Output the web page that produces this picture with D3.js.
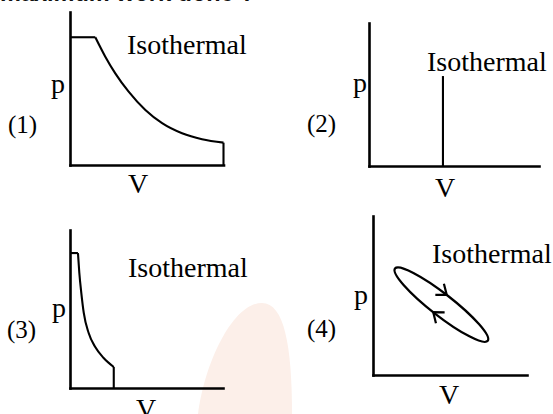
<!DOCTYPE html>
<html>
<head>
<meta charset="utf-8">
<script src="https://cdn.jsdelivr.net/npm/d3@7"></script>
<style>
  body { margin: 0; background: #fff; }
  svg { display: block; }
</style>
</head>
<body>
<div id="container"></div>
<script>
/* CONSTANTS AND GLOBALS */
const width = 553,
  height = 414;

/* DATA */
const panelLabels = ["(1)", "(2)", "(3)", "(4)"];
const curveLabel = "Isothermal";
const xLabel = "V", yLabel = "p";
const question = "maximum work done ?";

// (1) constant p, then isothermal expansion, then drop at constant V
const p1Top = 8.35;
const v1 = [1.65, 2.30, 2.95, 3.82, 4.91, 6.00, 7.30, 8.60, 10];
const p1 = [8.35, 7.08, 5.99, 4.79, 3.59, 2.73, 2.07, 1.68, 1.46];

// (2) vertical line
const v2 = 4.35, p2Top = 6.29;

// (3) short flat, steep isothermal, drop
const p3Top = 8.54;
const v3 = [0.52, 0.61, 0.74, 0.90, 1.22, 1.65, 2.20, 2.86];
const p3 = [8.54, 7.28, 6.01, 4.75, 3.48, 2.59, 1.90, 1.33];

// (4) closed cycle, tips of the loop (V, p)
const loopTips = [[1.43, 6.70], [7.45, 2.15]];

/* LAYOUT (pixel frame of each small plot + where its texts sit) */
const frames = [
  { x0: 70, x1: 223.5, yb: 165, yt: 12, iso: [127, 54], p: [51, 93], num: [8, 133], V: [138, 193] },
  { x0: 369, x1: 539, yb: 166, yt: 23, iso: [427, 71], p: [353, 92], num: [307, 132], V: [445, 197] },
  { x0: 70, x1: 223, yb: 388, yt: 230, iso: [128, 277], p: [52, 317], num: [7, 338], V: [146, 418] },
  { x0: 373, x1: 527, yb: 375, yt: 216, iso: [432, 263], p: [354, 304], num: [307, 337], V: [449, 404] }
];
const loopHalfWidth = 11;

const svg = d3.select("#container")
  .append("svg")
  .attr("width", width)
  .attr("height", height)
  .style("background", "#fff");

// faint watermark blob
svg.append("path")
  .attr("d", "M198,414 C204,365 232,303 262,303 C284,303 292,345 292,414 Z")
  .attr("fill", "#fcefe9");

// question text, almost all cut off at the top
svg.append("text")
  .attr("x", 0)
  .attr("y", 1)
  .attr("font-family", "Liberation Sans")
  .attr("font-weight", "bold")
  .attr("font-size", 23.5)
  .attr("fill", "#111")
  .text(question);

/* SCALES + AXES */
const scales = frames.map(f => ({
  x: d3.scaleLinear().domain([0, 10]).range([f.x0, f.x1]),
  y: d3.scaleLinear().domain([0, 10]).range([f.yb, f.yt])
}));

frames.forEach((f, i) => {
  const { x, y } = scales[i];
  const g = svg.append("g");

  g.append("g")
    .attr("transform", `translate(0,${f.yb})`)
    .call(d3.axisBottom(x).ticks(0).tickSize(0).tickSizeOuter(0))
    .call(a => a.select(".domain").attr("stroke", "#000").attr("stroke-width", 2.6));

  g.append("g")
    .attr("transform", `translate(${f.x0},0)`)
    .call(d3.axisLeft(y).ticks(0).tickSize(0).tickSizeOuter(0))
    .call(a => a.select(".domain").attr("stroke", "#000").attr("stroke-width", 2.6));

  // overlap corner so it looks like one L
  g.selectAll(".domain").attr("stroke-linecap", "square");

  const txt = (pos, s, size, anchor) => g.append("text")
    .attr("x", pos[0]).attr("y", pos[1])
    .attr("font-family", "Liberation Serif")
    .attr("font-size", size)
    .attr("text-anchor", anchor || "start")
    .attr("fill", "#000")
    .text(s);

  txt(f.iso, curveLabel, 28);
  txt(f.p, yLabel, 28);
  txt(f.V, xLabel, 28, "middle");
  txt(f.num, panelLabels[i], 25);
});

const line = (sx, sy) => d3.line().x(d => sx(d[0])).y(d => sy(d[1]));

const draw = d => svg.append("path")
  .attr("d", d)
  .attr("fill", "none")
  .attr("stroke", "#000")
  .attr("stroke-width", 2.1)
  .attr("stroke-linejoin", "miter");

/* (1) */
{
  const { x, y } = scales[0];
  const pts = v1.map((v, i) => [v, p1[i]]);
  draw(line(x, y)([[0, p1Top], [v1[0], p1Top]]));
  draw(line(x, y).curve(d3.curveMonotoneX)(pts));
  draw(line(x, y)([pts[pts.length - 1], [v1[v1.length - 1], 0]]));
}

/* (2) */
{
  const { x, y } = scales[1];
  draw(line(x, y)([[v2, 0], [v2, p2Top]]));
}

/* (3) */
{
  const { x, y } = scales[2];
  const pts = v3.map((v, i) => [v, p3[i]]);
  draw(line(x, y)([[0, p3Top], [v3[0], p3Top]]));
  draw(line(x, y).curve(d3.curveMonotoneX)(pts));
  draw(line(x, y)([pts[pts.length - 1], [v3[v3.length - 1], 0]]));
}

/* (4) loop with two arrow heads */
{
  const { x, y } = scales[3];
  const a = [x(loopTips[0][0]), y(loopTips[0][1])];
  const b = [x(loopTips[1][0]), y(loopTips[1][1])];
  const cx = (a[0] + b[0]) / 2, cy = (a[1] + b[1]) / 2;
  const rx = Math.hypot(b[0] - a[0], b[1] - a[1]) / 2;
  const ang = Math.atan2(b[1] - a[1], b[0] - a[0]);

  svg.append("ellipse")
    .attr("cx", cx).attr("cy", cy)
    .attr("rx", rx).attr("ry", loopHalfWidth)
    .attr("transform", `rotate(${ang * 180 / Math.PI},${cx},${cy})`)
    .attr("fill", "none")
    .attr("stroke", "#000")
    .attr("stroke-width", 2.3);

  const u = [Math.cos(ang), Math.sin(ang)];
  const n = [u[1], -u[0]];
  const at = t => [
    cx + rx * Math.cos(t) * u[0] + loopHalfWidth * Math.sin(t) * n[0],
    cy + rx * Math.cos(t) * u[1] + loopHalfWidth * Math.sin(t) * n[1]
  ];
  const dirAt = t => {
    // travel goes with decreasing t (clockwise on screen)
    const dx = rx * Math.sin(t) * u[0] - loopHalfWidth * Math.cos(t) * n[0];
    const dy = rx * Math.sin(t) * u[1] - loopHalfWidth * Math.cos(t) * n[1];
    return Math.atan2(dy, dx) * 180 / Math.PI;
  };

  [Math.PI / 2 + 0.03, -(Math.PI / 2 + 0.03)].forEach(t => {
    const p = at(t);
    svg.append("path")
      .attr("d", "M-9,-7L0,0L-9,7")
      .attr("transform", `translate(${p[0]},${p[1]}) rotate(${dirAt(t)})`)
      .attr("fill", "none")
      .attr("stroke", "#000")
      .attr("stroke-width", 2.2)
      .attr("stroke-linejoin", "miter");
  });
}
</script>
</body>
</html>
